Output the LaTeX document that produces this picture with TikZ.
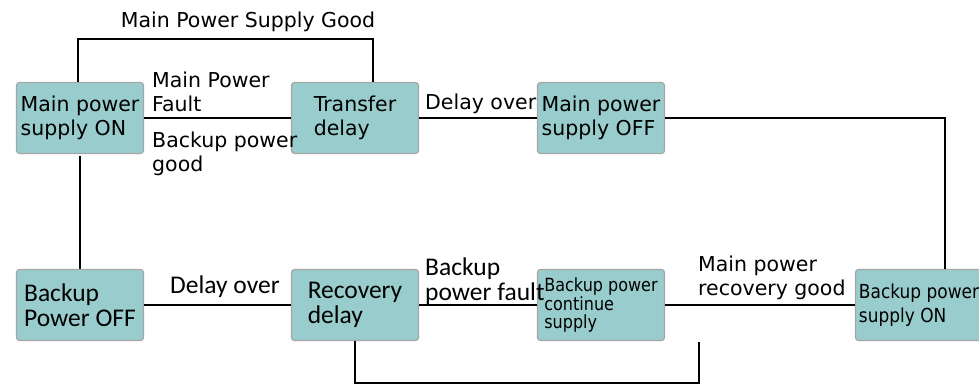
\documentclass[tikz,border=0pt]{standalone}
\usepackage{fontspec}
\setmainfont{DejaVu Sans}
\newfontfamily\carlito{Carlito}
\newfontfamily\condfont{DejaVu Sans}[FakeStretch=0.88]
\definecolor{boxfill}{RGB}{153,204,204}
\definecolor{boxline}{RGB}{165,165,165}
\tikzset{
  state/.style={rectangle, rounded corners=3pt, draw=boxline, fill=boxfill,
    line width=1.2pt, minimum width=127pt, minimum height=71pt,
    inner sep=0pt, align=left},
  cond/.style={inner sep=0pt, align=left},
  calfont/.style={font=\carlito\fontsize{25.5}{25}\selectfont},
  narrow/.style={font=\condfont\fontsize{19.3}{24}\selectfont}
}
\begin{document}
\begin{tikzpicture}[x=1pt, y=-1pt, font=\fontsize{20.5}{24}\selectfont]
      \useasboundingbox (0,0) rectangle (979,385);
      \draw
        (80,118) node[state] (mainon){Main power\\supply ON}
        (355,118) node[state] (transfer){Transfer\\delay}
        (601,118) node[state] (mainoff){Main power\\supply OFF}
        (80,305) node[state, calfont] (backupoff){Backup\\Power OFF}
        (355,305) node[state, calfont] (recovery){Recovery\\delay}
        (601,305) node[state, font=\condfont\fontsize{18.2}{17.5}\selectfont] (continue){Backup power\\continue\\supply}
        (919,305) node[state, narrow] (backupon){Backup power\\supply ON};
      \coordinate (goodL) at (78,39);
      \coordinate (goodR) at (373,39);
      \coordinate (recend) at (699,342);
      \node[cond, anchor=base] (goodlbl) at (248,28) {Main Power Supply Good};
      \node[cond, anchor=north west] (faultlbl) at (152,72) {Main Power\\Fault};
      \node[cond, anchor=north west] (bgoodlbl) at (152,132) {Backup power\\good};
      \node[cond, anchor=base west] (overtop) at (425,110) {Delay over};
      \node[cond, calfont, anchor=base west] (overbot) at (170,293) {Delay over};
      \node[cond, calfont, anchor=north west] (bfaultlbl) at (425,258) {Backup\\power fault};
      \node[cond, anchor=north west] (recgoodlbl) at (698,256) {Main power\\recovery good};
      \begin{scope}[line width=2pt]
        \draw ([xshift=-2pt]mainon.north) -- (goodL) -- (goodR) -- ([xshift=18pt]transfer.north);
        \draw (mainon) to (transfer);
        \draw (transfer) to (mainoff);
        \draw (mainoff.east) -| ([xshift=26pt]backupon.north);
        \draw[shorten <=2pt] (mainon.south) to (backupoff.north);
        \draw (backupoff) to (recovery);
        \draw (recovery) to (continue);
        \draw (continue) to (backupon);
        \draw (recovery.south) -- ++(0,42) -| (recend);
      \end{scope}
    \end{tikzpicture}
\end{document}
